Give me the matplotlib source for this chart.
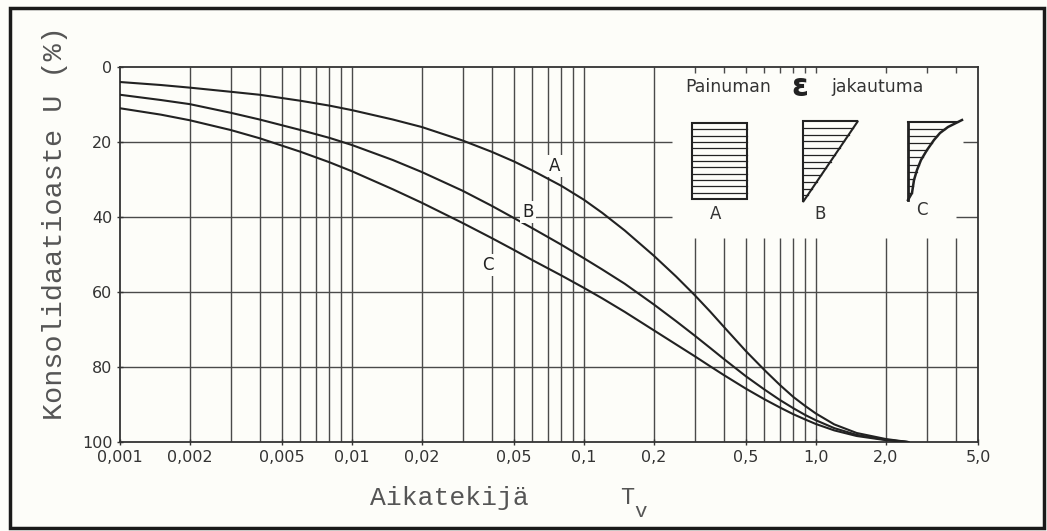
import numpy as np
import matplotlib.pyplot as plt
from matplotlib.patches import Rectangle, Polygon

# time factor Tv and degree of consolidation U (%)
tv = [0.001, 0.0015, 0.002, 0.003, 0.004, 0.006, 0.008, 0.01, 0.015, 0.02,
      0.03, 0.04, 0.05, 0.06, 0.08, 0.1, 0.12, 0.15, 0.2, 0.25, 0.3, 0.35,
      0.4, 0.5, 0.6, 0.7, 0.8, 0.9, 1.0, 1.2, 1.5, 2.0, 2.5]
u_a = [4.0, 4.8, 5.5, 6.6, 7.4, 9.0, 10.3, 11.5, 14.0, 16.0,
       19.6, 22.6, 25.2, 27.6, 31.7, 35.4, 38.9, 43.6, 50.3, 55.9, 60.8, 65.2,
       69.2, 75.8, 80.8, 84.8, 88.0, 90.4, 92.4, 95.3, 97.6, 99.2, 100]
u_b = [7.4, 8.8, 9.9, 12.2, 14.0, 16.8, 18.9, 20.8, 24.8, 28.0,
       33.0, 37.0, 40.3, 43.0, 47.4, 51.0, 54.0, 57.8, 63.3, 67.8, 71.6, 74.9,
       77.8, 82.5, 86.0, 88.8, 91.0, 92.8, 94.2, 96.3, 98.1, 99.4, 100]
u_c = [11.0, 12.7, 14.2, 16.8, 19.0, 22.6, 25.4, 27.8, 32.6, 36.2,
       41.6, 45.6, 48.8, 51.5, 55.6, 58.9, 61.7, 65.3, 70.2, 74.0, 77.1, 79.8,
       82.1, 85.8, 88.6, 90.8, 92.6, 94.0, 95.2, 96.9, 98.4, 99.5, 100]

curve_labels = ['A', 'B', 'C']
label_pos = [(0.075, 26.5), (0.0575, 38.7), (0.0386, 52.8)]

xticks = [0.001, 0.002, 0.005, 0.01, 0.02, 0.05, 0.1, 0.2, 0.5, 1.0, 2.0, 5.0]
xticklabels = ['0,001', '0,002', '0,005', '0,01', '0,02', '0,05', '0,1', '0,2',
               '0,5', '1,0', '2,0', '5,0']
yticks = [0, 20, 40, 60, 80, 100]

ink = '#222222'
gridc = '#4a4a4a'
paper = '#fdfdf9'

fig = plt.figure(figsize=(10.47, 5.31), dpi=100)
fig.patch.set_facecolor(paper)
ax = fig.add_axes([0.1146, 0.1676, 0.8195, 0.7062])
ax.set_facecolor(paper)
ax.set_xscale('log')
ax.set_xlim(0.001, 5.0)
ax.set_ylim(100, 0)

# grid: every 1..9 per decade, lines right of 0,2 stop below the inset
glines = [m * 10.0 ** e for e in (-3, -2, -1, 0) for m in range(1, 10)]
glines = [g for g in glines if 0.001 < g < 5.0]
for g in glines:
    if g > 0.25:
        ax.vlines(g, 45.5, 100, color=gridc, lw=1.0, zorder=1)
        ax.vlines(g, 0, 1.5, color=gridc, lw=1.0, zorder=1)
    else:
        ax.vlines(g, 0, 100, color=gridc, lw=1.0, zorder=1)
for h in (20, 40):
    ax.hlines(h, 0.001, 0.24, color=gridc, lw=1.0, zorder=1)
    ax.hlines(h, 4.3 if h == 20 else 4.0, 5.0, color=gridc, lw=1.0, zorder=1)
for h in (60, 80):
    ax.hlines(h, 0.001, 5.0, color=gridc, lw=1.0, zorder=1)

for u in (u_a, u_b, u_c):
    ax.plot(tv, u, color=ink, lw=1.5, zorder=3, solid_joinstyle='round')

for lab, (x, y) in zip(curve_labels, label_pos):
    ax.text(x, y, lab, fontsize=12, color=ink, ha='center', va='center', zorder=4,
            bbox=dict(facecolor=paper, edgecolor='none', pad=1.5))

for s in ax.spines.values():
    s.set_color('#333333')
    s.set_linewidth(1.3)

ax.set_xticks(xticks)
ax.set_xticklabels(xticklabels)
ax.xaxis.set_minor_locator(plt.NullLocator())
ax.set_yticks(yticks)
ax.tick_params(direction='inout', length=5, width=1.0, color='#333333',
               labelsize=11.5, labelcolor='#333333', pad=3)

fig.text(0.0525, 0.58, 'Konsolidaatioaste U (%)', rotation=90, ha='center',
         va='center', family='Liberation Mono', fontsize=20.5, color='#555555')
fig.text(0.353, 0.062, 'Aikatekijä', ha='left', va='center',
         family='Liberation Mono', fontsize=19, color='#555555')
fig.text(0.592, 0.064, 'T', ha='left', va='center',
         family='Liberation Mono', fontsize=17, color='#555555')
fig.text(0.606, 0.036, 'v', ha='left', va='center',
         family='Liberation Mono', fontsize=15, color='#555555')

# inset: strain distribution sketches, drawn in pixel units
ins = fig.add_axes([675 / 1047, 1 - 235 / 531, 300 / 1047, 167 / 531])
ins.set_xlim(675, 975)
ins.set_ylim(235, 68)
ins.axis('off')
ins.text(685, 87, 'Painuman', fontsize=12.5, color='#333333', va='center')
ins.text(800, 87, 'ε', fontsize=22, fontweight='bold', color=ink,
         ha='center', va='center')
ins.text(831, 87, 'jakautuma', fontsize=12.5, color='#333333', va='center')

ins.add_patch(Rectangle((692, 123), 55, 76, fill=False, ec=ink, lw=1.5))
for yy in np.linspace(123, 199, 13)[1:-1]:
    ins.plot([692, 747], [yy, yy], color=ink, lw=0.9)

ins.add_patch(Polygon([(803, 121), (858, 121), (803, 202)], closed=True,
                      fill=False, ec=ink, lw=1.5))
for yy in np.linspace(121, 202, 13)[1:-1]:
    ins.plot([803, 803 + 55 * (202 - yy) / 81], [yy, yy], color=ink, lw=0.9)

c_y = [200, 193, 180, 170, 160, 150, 140, 133, 127, 122, 120]
c_x = [908, 912, 914, 917, 921, 927, 934, 940, 948, 958, 962]
ins.plot([908, 908], [122, 200], color=ink, lw=2.0)
ins.plot([908, 958], [122, 122], color=ink, lw=1.5)
ins.plot(c_x, c_y, color=ink, lw=1.8)
for yy in np.linspace(122, 200, 12)[1:-1]:
    ins.plot([908, np.interp(yy, c_y[::-1], c_x[::-1])], [yy, yy],
             color=ink, lw=0.9)

for lab, xx, yy in (('A', 716, 214), ('B', 820, 214), ('C', 922, 210)):
    ins.text(xx, yy, lab, fontsize=12, color='#333333', ha='center', va='center')

# scan frame
fig.add_artist(Rectangle((10 / 1047, 3 / 531), 1034 / 1047, 520 / 531,
                         transform=fig.transFigure, fill=False,
                         ec='#1a1a1a', lw=2.5))

fig.savefig('out.png', dpi=100, facecolor=fig.get_facecolor())
